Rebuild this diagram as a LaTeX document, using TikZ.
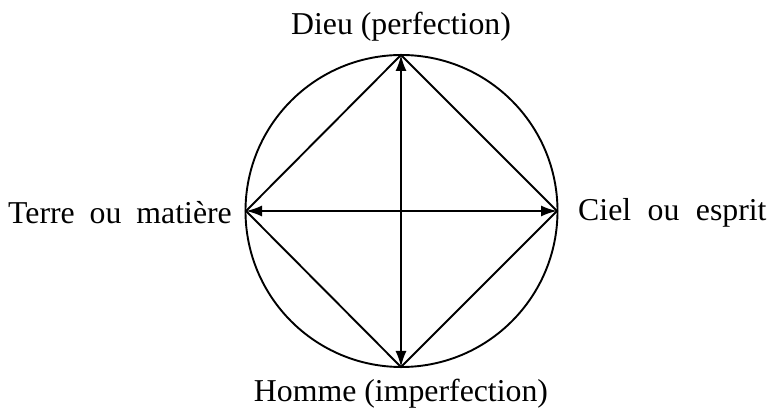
\documentclass[tikz,border=0pt]{standalone}
\usepackage{fontspec}
\setmainfont{Liberation Serif}
\usetikzlibrary{arrows.meta}
\begin{document}
\begin{tikzpicture}[x=1pt,y=-1pt,
  lbl/.style={inner sep=0pt,font=\fontsize{31.8}{38}\selectfont},
  edge/.style={line width=1.9pt},
  arr/.style={line width=1.9pt,{Latex[length=16pt,width=11pt]}-{Latex[length=16pt,width=11pt]}}]
\useasboundingbox (0,0) rectangle (771,411);
\coordinate (T) at (401,55);
\coordinate (B) at (401,367);
\coordinate (L) at (246,211);
\coordinate (R) at (557,211);
\draw[edge] (401.5,211) circle (156);
\draw[edge] (T) -- (R) -- (B) -- (L) -- cycle;
\draw[arr] (T) -- (B);
\draw[arr] (L) -- (R);
\node[lbl] (dieu) at (401,27) {Dieu (perfection)};
\node[lbl] (homme) at (401,394) {Homme (imperfection)};
\node[lbl,anchor=east] (terre) at (232,213) {Terre\hspace{7pt} ou\hspace{7pt} matière};
\node[lbl,anchor=west] (ciel) at (578,213) {Ciel\hspace{8.5pt} ou\hspace{8.5pt} esprit};
\end{tikzpicture}
\end{document}
